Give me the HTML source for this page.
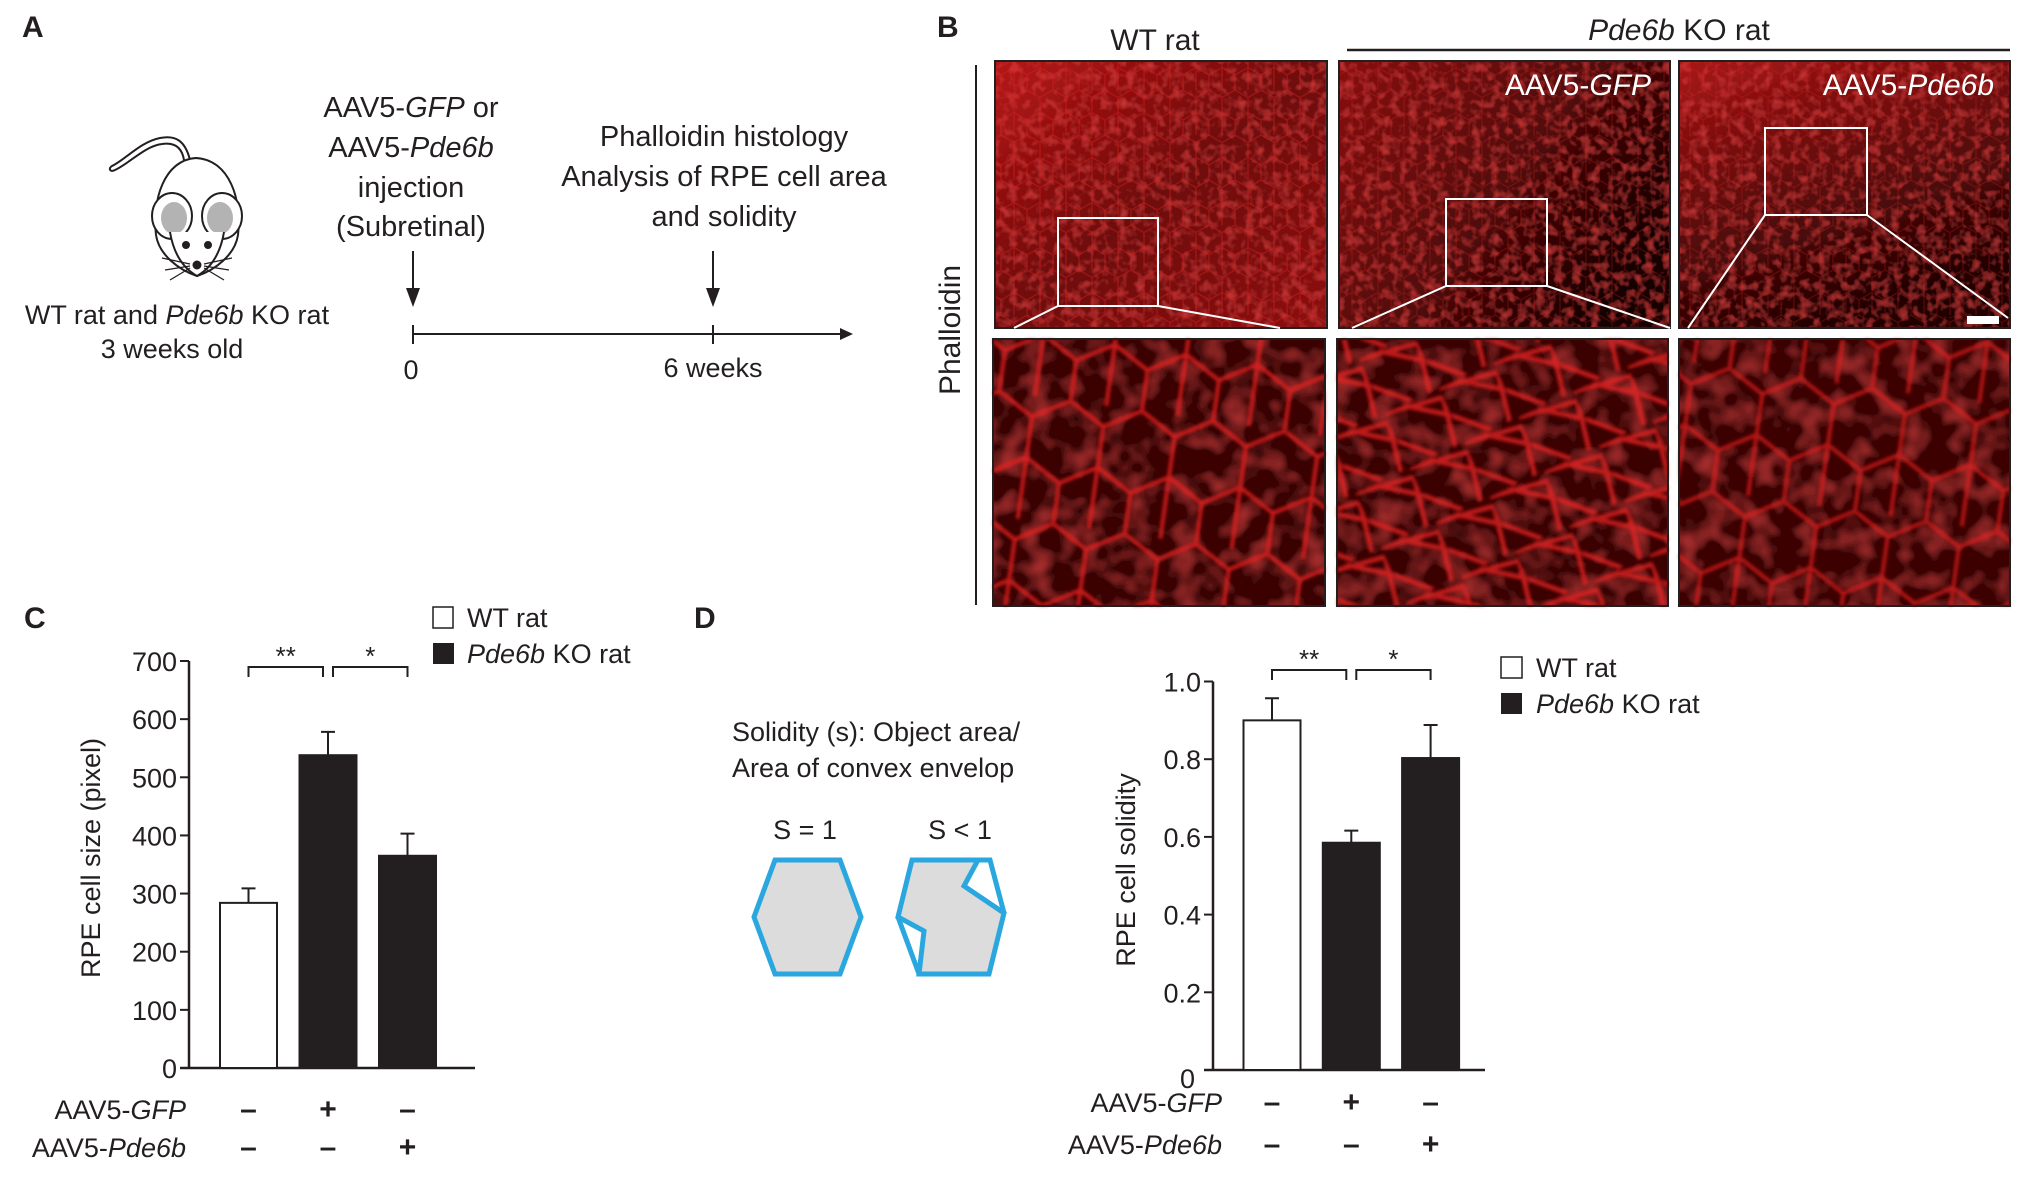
<!DOCTYPE html>
<html><head><meta charset="utf-8">
<style>
html,body{margin:0;padding:0;background:#fff;}
body{width:2038px;height:1183px;overflow:hidden;font-family:"Liberation Sans",Arial,sans-serif;}
svg text{font-family:"Liberation Sans",Arial,sans-serif;fill:#231f20;}
</style></head>
<body>
<svg id="fig" width="2038" height="1183" viewBox="0 0 2038 1183" xmlns="http://www.w3.org/2000/svg">
<defs>
  <filter id="noiseTop" x="0" y="0" width="100%" height="100%">
    <feTurbulence type="fractalNoise" baseFrequency="0.11" numOctaves="2" seed="3" result="n"/>
    <feColorMatrix in="n" type="matrix" values="0 0 0 0 0.85  0 0 0 0 0.06  0 0 0 0 0.06  1.2 0 0 0 -0.55" result="r"/>
    <feComposite in="r" in2="SourceGraphic" operator="over"/>
  </filter>
  <filter id="noiseBot" x="0" y="0" width="100%" height="100%">
    <feTurbulence type="fractalNoise" baseFrequency="0.04" numOctaves="2" seed="7" result="n"/>
    <feColorMatrix in="n" type="matrix" values="0 0 0 0 0.7  0 0 0 0 0.05  0 0 0 0 0.05  1.2 0 0 0 -0.55" result="r"/>
    <feComposite in="r" in2="SourceGraphic" operator="over"/>
  </filter>
  <filter id="blur2"><feGaussianBlur stdDeviation="1.6"/></filter>
  <pattern id="hexSmall" width="26" height="45" patternUnits="userSpaceOnUse">
    <path d="M13 0 L26 7.5 L26 22.5 L13 30 L0 22.5 L0 7.5 Z M13 30 L13 45 M0 22.5 L0 45 M26 22.5 L26 45" fill="none" stroke="#e02020" stroke-width="1.4" opacity="0.55"/>
  </pattern>
  <pattern id="hexBig" width="72" height="124" patternUnits="userSpaceOnUse" patternTransform="rotate(8)">
    <path d="M36 0 L72 21 L72 62 L36 83 L0 62 L0 21 Z M36 83 L36 124 M0 62 L0 124 M72 62 L72 124" fill="none" stroke="#e82222" stroke-width="4" opacity="0.8"/>
  </pattern>
  <pattern id="meshBig" width="60" height="60" patternUnits="userSpaceOnUse" patternTransform="rotate(-25)">
    <path d="M0 0 L60 10 L50 60 M0 30 L30 60 M60 30 L20 0" fill="none" stroke="#e82424" stroke-width="5" opacity="0.75"/>
  </pattern>
  <linearGradient id="g1" x1="0" y1="0" x2="1" y2="1">
    <stop offset="0" stop-color="#b51515"/><stop offset="0.5" stop-color="#6e0b0b"/><stop offset="1" stop-color="#8f1212"/>
  </linearGradient>
  <linearGradient id="g2" x1="0" y1="0" x2="1" y2="0.6">
    <stop offset="0" stop-color="#8a1010"/><stop offset="0.6" stop-color="#4e0707"/><stop offset="1" stop-color="#160202"/>
  </linearGradient>
  <linearGradient id="g3" x1="0" y1="0" x2="0.4" y2="1">
    <stop offset="0" stop-color="#a81515"/><stop offset="0.55" stop-color="#5a0909"/><stop offset="1" stop-color="#220303"/>
  </linearGradient>
</defs>

<!-- Panel A -->
<text x="22" y="37" font-size="30" font-weight="bold">A</text>
<g stroke="#231f20" stroke-width="2" fill="#fff">
  <path d="M190 160 C185 140 175 135 160 138 C140 142 125 160 112 166 C108 168 110 173 115 170 C130 163 145 146 162 144 C175 142 182 148 184 160" fill="#fff"/>
  <path d="M196 158 C230 160 242 200 238 235 C235 255 215 270 197 276 C179 270 159 255 156 235 C152 200 164 160 196 158 Z"/>
  <ellipse cx="172" cy="216" rx="20" ry="23" fill="#fff"/>
  <ellipse cx="174" cy="218" rx="13" ry="16" fill="#b3b3b3" stroke="none"/>
  <ellipse cx="222" cy="216" rx="20" ry="23" fill="#fff"/>
  <ellipse cx="220" cy="218" rx="13" ry="16" fill="#b3b3b3" stroke="none"/>
  <path d="M170 232 C175 262 190 272 197 276 C204 272 219 262 224 232" fill="#fff"/>
  <circle cx="186" cy="245" r="3" fill="#231f20"/><circle cx="208" cy="245" r="3" fill="#231f20"/>
  <circle cx="197" cy="265" r="3.5" fill="#231f20"/>
  <path d="M190 264 L162 258 M190 266 L165 270 M190 268 L170 280 M204 264 L232 258 M204 266 L229 270 M204 268 L224 280" fill="none" stroke-width="1.3"/>
</g>
<text x="177" y="324" font-size="27" text-anchor="middle">WT rat  and <tspan font-style="italic">Pde6b</tspan> KO rat</text>
<text x="172" y="358" font-size="27" text-anchor="middle">3 weeks old</text>
<g font-size="29" text-anchor="middle">
  <text x="411" y="117">AAV5-<tspan font-style="italic">GFP</tspan> or</text>
  <text x="411" y="157">AAV5-<tspan font-style="italic">Pde6b</tspan></text>
  <text x="411" y="197">injection</text>
  <text x="411" y="236">(Subretinal)</text>
</g>
<g font-size="29" text-anchor="middle">
  <text x="724" y="146">Phalloidin histology</text>
  <text x="724" y="186">Analysis of RPE cell area</text>
  <text x="724" y="226">and solidity</text>
</g>
<g stroke="#231f20" stroke-width="2" fill="#231f20">
  <line x1="413" y1="251" x2="413" y2="290"/><path d="M406 288 L420 288 L413 307 Z" stroke="none"/>
  <line x1="713" y1="251" x2="713" y2="290"/><path d="M706 288 L720 288 L713 307 Z" stroke="none"/>
  <line x1="413" y1="334" x2="843" y2="334"/><path d="M840 328 L853 334 L840 340 Z" stroke="none"/>
  <line x1="413" y1="325" x2="413" y2="344"/><line x1="713" y1="325" x2="713" y2="344"/>
</g>
<text x="411" y="379" font-size="27" text-anchor="middle">0</text>
<text x="713" y="377" font-size="27" text-anchor="middle">6 weeks</text>

<!-- Panel B -->
<text x="937" y="37" font-size="30" font-weight="bold">B</text>
<text x="1155" y="50" font-size="30" text-anchor="middle">WT rat</text>
<text x="1679" y="40" font-size="30" text-anchor="middle"><tspan font-style="italic">Pde6b</tspan> KO rat</text>
<line x1="1347" y1="50" x2="2010" y2="50" stroke="#231f20" stroke-width="2.5"/>
<line x1="976" y1="65" x2="976" y2="605" stroke="#231f20" stroke-width="2"/>
<text transform="translate(960,330) rotate(-90)" font-size="30" text-anchor="middle">Phalloidin</text>

<g>
  <rect x="995" y="61" width="332" height="267" fill="url(#g1)" filter="url(#noiseTop)"/>
  <rect x="995" y="61" width="332" height="267" fill="url(#hexSmall)" opacity="0.7"/>
  <rect x="995" y="61" width="332" height="267" fill="none" stroke="#231f20" stroke-width="2"/>
</g>
<g>
  <rect x="1339" y="61" width="331" height="267" fill="url(#g2)" filter="url(#noiseTop)"/>
  <rect x="1339" y="61" width="331" height="267" fill="url(#hexSmall)" opacity="0.45"/>
  <rect x="1339" y="61" width="331" height="267" fill="none" stroke="#231f20" stroke-width="2"/>
</g>
<g>
  <rect x="1679" y="61" width="331" height="267" fill="url(#g3)" filter="url(#noiseTop)"/>
  <rect x="1679" y="61" width="331" height="267" fill="url(#hexSmall)" opacity="0.45"/>
  <rect x="1679" y="61" width="331" height="267" fill="none" stroke="#231f20" stroke-width="2"/>
</g>
<g>
  <rect x="993" y="339" width="332" height="267" fill="#3a0505" filter="url(#noiseBot)"/>
  <rect x="993" y="339" width="332" height="267" fill="url(#hexBig)" filter="url(#blur2)"/>
  <rect x="993" y="339" width="332" height="267" fill="none" stroke="#231f20" stroke-width="2"/>
</g>
<g>
  <rect x="1337" y="339" width="331" height="267" fill="#3a0505" filter="url(#noiseBot)"/>
  <rect x="1337" y="339" width="331" height="267" fill="url(#meshBig)" filter="url(#blur2)"/>
  <rect x="1337" y="339" width="331" height="267" fill="none" stroke="#231f20" stroke-width="2"/>
</g>
<g>
  <rect x="1679" y="339" width="331" height="267" fill="#3e0606" filter="url(#noiseBot)"/>
  <rect x="1679" y="339" width="331" height="267" fill="url(#hexBig)" opacity="0.85" filter="url(#blur2)"/>
  <rect x="1679" y="339" width="331" height="267" fill="none" stroke="#231f20" stroke-width="2"/>
</g>
<g fill="none" stroke="#fff" stroke-width="2">
  <rect x="1058" y="218" width="100" height="88"/>
  <line x1="1058" y1="306" x2="1014" y2="328"/><line x1="1158" y1="306" x2="1280" y2="328"/>
  <rect x="1446" y="199" width="101" height="87"/>
  <line x1="1446" y1="286" x2="1352" y2="328"/><line x1="1547" y1="286" x2="1670" y2="328"/>
  <rect x="1765" y="128" width="102" height="87"/>
  <line x1="1765" y1="215" x2="1688" y2="328"/><line x1="1867" y1="215" x2="2008" y2="318"/>
</g>
<rect x="1967" y="316" width="32" height="8" fill="#fff"/>
<text x="1651" y="95" font-size="30" style="fill:#fff" text-anchor="end">AAV5-<tspan font-style="italic">GFP</tspan></text>
<text x="1994" y="95" font-size="30" style="fill:#fff" text-anchor="end">AAV5-<tspan font-style="italic">Pde6b</tspan></text>

<!-- Panel C -->
<text x="24" y="628" font-size="30" font-weight="bold">C</text>
<g id="chartC"></g>
<g>
  <rect x="433" y="607" width="20" height="21" fill="#fff" stroke="#231f20" stroke-width="1.5"/>
  <text x="467" y="627" font-size="27">WT rat</text>
  <rect x="433" y="643" width="21" height="21" fill="#231f20"/>
  <text x="467" y="663" font-size="27"><tspan font-style="italic">Pde6b</tspan> KO rat</text>
</g>

<!-- Panel D -->
<text x="694" y="628" font-size="30" font-weight="bold">D</text>
<text x="732" y="741" font-size="27">Solidity (s): Object area/</text>
<text x="732" y="777" font-size="27">Area of convex envelop</text>
<text x="805" y="839" font-size="27" text-anchor="middle">S = 1</text>
<text x="960" y="839" font-size="27" text-anchor="middle">S  &lt; 1</text>
<polygon points="775,860 840,860 861,917 840,974 775,974 754,917" fill="#dcdcdc" stroke="#2aa7df" stroke-width="5"/>
<polygon points="912,860 978,860 964,886 1004,913 989,974 919,974 924,931 898,917" fill="#dcdcdc" stroke="#2aa7df" stroke-width="5" stroke-linejoin="miter"/>
<path d="M978 860 L990 860 L1004 913 M898 917 L919 974" fill="none" stroke="#2aa7df" stroke-width="5"/>

<g id="chartD"></g>
<g>
  <rect x="1501" y="657" width="21" height="21" fill="#fff" stroke="#231f20" stroke-width="1.5"/>
  <text x="1536" y="677" font-size="27">WT rat</text>
  <rect x="1501" y="693" width="21" height="21" fill="#231f20"/>
  <text x="1536" y="713" font-size="27"><tspan font-style="italic">Pde6b</tspan> KO rat</text>
</g>
</svg>

<script>
// Chart C data
const cCategories = ["WT", "KO + AAV5-GFP", "KO + AAV5-Pde6b"];
const cValues = [284, 538, 365];
const cErrors = [25, 40, 38];
const cFills = ["#ffffff", "#231f20", "#231f20"];
const cTicks = [0, 100, 200, 300, 400, 500, 600, 700];
const cTickLabels = ["0", "100", "200", "300", "400", "500", "600", "700"];
const cGfp = ["–", "+", "–"];
const cPde6b = ["–", "–", "+"];
const cSig = ["**", "*"];
// Chart D data
const dCategories = ["WT", "KO + AAV5-GFP", "KO + AAV5-Pde6b"];
const dValues = [0.90, 0.585, 0.803];
const dErrors = [0.057, 0.031, 0.085];
const dFills = ["#ffffff", "#231f20", "#231f20"];
const dTicks = [0, 0.2, 0.4, 0.6, 0.8, 1.0];
const dTickLabels = ["0", "0.2", "0.4", "0.6", "0.8", "1.0"];
const dGfp = ["–", "+", "–"];
const dPde6b = ["–", "–", "+"];
const dSig = ["**", "*"];

const NS = "http://www.w3.org/2000/svg";
function mk(parent, tag, attrs, text) {
  const e = document.createElementNS(NS, tag);
  for (const k in attrs) e.setAttribute(k, attrs[k]);
  if (text !== undefined) e.textContent = text;
  parent.appendChild(e);
  return e;
}

function drawBarChart(g, o, cats, vals, errs, fills, ticks, tickLabels, gfp, pde, sig) {
  const y = v => o.y0 - (v - 0) / o.max * (o.y0 - o.yTop);
  const x = i => o.x0 + o.first + i * o.step;
  const ya = mk(g, "line", {x1: o.ax, y1: y(o.max), x2: o.ax, y2: o.y0, stroke: "#231f20", "stroke-width": 2.5});
  
  
  const xa = mk(g, "line", {x1: o.ax - 9, y1: o.y0, x2: o.xEnd, y2: o.y0, stroke: "#231f20", "stroke-width": 2.5});
  
  
  ticks.forEach((t, i) => {
    const tk = mk(g, "line", {x1: o.ax - 9, y1: y(t), x2: o.ax, y2: y(t), stroke: "#231f20", "stroke-width": 2});
    
    
    const isZeroLow = o.zeroBelow && t === 0;
    const lb = mk(g, "text", {x: isZeroLow ? o.ax - 18 : o.ax - 12, y: isZeroLow ? y(t) + 18 : y(t) + 10, "font-size": 27, "text-anchor": "end"}, tickLabels[i]);
    
    
  });
  const tt = mk(g, "text", {transform: `translate(${o.titleX},${o.titleY}) rotate(-90)`, "font-size": 27, "text-anchor": "middle"}, o.title);
  
  
  vals.forEach((v, i) => {
    const cx = x(i);
    const er = mk(g, "path", {d: `M${cx} ${y(v)} L${cx} ${y(v + errs[i])} M${cx - 7} ${y(v + errs[i])} L${cx + 7} ${y(v + errs[i])}`, stroke: "#231f20", "stroke-width": 2, fill: "none"});
    
    
    const b = mk(g, "rect", {x: cx - o.bw / 2, y: y(v), width: o.bw, height: o.y0 - y(v), fill: fills[i], stroke: "#231f20", "stroke-width": 2});
    
    
    const m1 = mk(g, "text", {x: cx, y: o.row1, "font-size": 30, "font-weight": "bold", "text-anchor": "middle"}, gfp[i]);
    
    
    const m2 = mk(g, "text", {x: cx, y: o.row2, "font-size": 30, "font-weight": "bold", "text-anchor": "middle"}, pde[i]);
    
    
  });
  sig.forEach((s, i) => {
    const xa1 = x(i) + (i === 0 ? 0 : 5), xa2 = x(i + 1) - (i === 0 ? 5 : 0);
    const br = mk(g, "path", {d: `M${xa1} ${o.brY + 10} L${xa1} ${o.brY} L${xa2} ${o.brY} L${xa2} ${o.brY + 10}`, stroke: "#231f20", "stroke-width": 2, fill: "none"});
    
    
    const st = mk(g, "text", {x: (xa1 + xa2) / 2, y: o.brY - 2, "font-size": 26, "text-anchor": "middle"}, s);
    
    
  });
  const l1 = mk(g, "text", {x: o.rowLabelX, y: o.row1, "font-size": 27, "text-anchor": "end"});
  l1.innerHTML = 'AAV5-<tspan font-style="italic">GFP</tspan>';
  
  
  const l2 = mk(g, "text", {x: o.rowLabelX, y: o.row2, "font-size": 27, "text-anchor": "end"});
  l2.innerHTML = 'AAV5-<tspan font-style="italic">Pde6b</tspan>';
  
  
}

drawBarChart(document.getElementById("chartC"),
  {x0: 0, first: 248.5, step: 79.5, bw: 57, ax: 189, xEnd: 475, y0: 1068, yTop: 661, max: 700,
   titleX: 100, titleY: 858, title: "RPE cell size (pixel)", row1: 1119, row2: 1157, rowLabelX: 186, brY: 667, zeroBelow: false},
  cCategories, cValues, cErrors, cFills, cTicks, cTickLabels, cGfp, cPde6b, cSig);

drawBarChart(document.getElementById("chartD"),
  {x0: 0, first: 1272, step: 79.3, bw: 57, ax: 1213, xEnd: 1485, y0: 1070, yTop: 681.5, max: 1.0,
   titleX: 1135, titleY: 870, title: "RPE cell solidity", row1: 1112, row2: 1154, rowLabelX: 1222, brY: 670, zeroBelow: true},
  dCategories, dValues, dErrors, dFills, dTicks, dTickLabels, dGfp, dPde6b, dSig);
</script>
</body></html>
